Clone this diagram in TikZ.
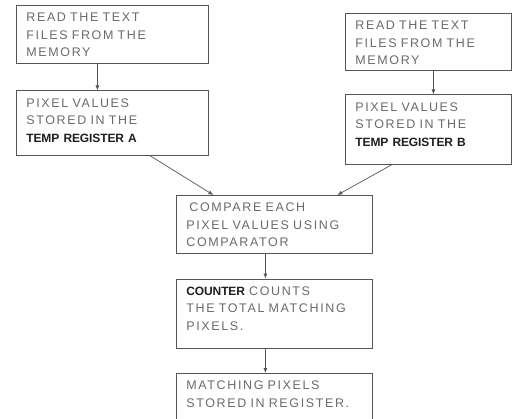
\documentclass[tikz,border=0pt]{standalone}
\usepackage{fontspec}
\setmainfont{Liberation Sans}[LetterSpace=13,WordSpace=1.4,BoldFeatures={LetterSpace=-1,WordSpace=1}]
\usetikzlibrary{arrows.meta,positioning}

\definecolor{boxline}{HTML}{555555}
\definecolor{boxtext}{HTML}{6A6A6A}
\definecolor{boldtext}{HTML}{1E1E1E}
\newcommand{\boldpart}[1]{{\fontsize{12}{17.6}\selectfont\textbf{\color{boldtext}#1}}}

\begin{document}
\begin{tikzpicture}[
    x=1pt, y=-1pt,
    stepbox/.style={draw=boxline, line width=0.8pt, anchor=north west, align=left,
      inner xsep=10pt, inner ysep=7.5pt, text=boxtext,
      font=\fontsize{12.5}{17.6}\selectfont},
    link/.style={->, draw=boxline, line width=0.7pt},
    >={Latex[length=5pt,width=4pt]},
]
\useasboundingbox (0,0) rectangle (513,419);

% Left branch: register A
\node[stepbox, text width=172pt, text depth=34pt] (readA) at (16,5)
  {READ THE TEXT\\FILES FROM THE\\MEMORY};
\node[stepbox, text width=172pt, text depth=41pt, below=27pt of readA] (regA)
  {PIXEL VALUES\\STORED IN THE\\\boldpart{TEMP REGISTER A}};

% Right branch: register B
\node[stepbox, text width=146pt, text depth=33pt] (readB) at (345,13)
  {READ THE TEXT\\FILES FROM THE\\MEMORY};
\node[stepbox, text width=146pt, text depth=46pt, below=24pt of readB] (regB)
  {PIXEL VALUES\\STORED IN THE\\\boldpart{TEMP REGISTER B}};

% Common chain
\node[stepbox, text width=176pt, text depth=34pt] (compare) at (176,195)
  {\hspace{3pt}COMPARE EACH\\PIXEL VALUES USING\\COMPARATOR};
\node[stepbox, text width=176pt, text depth=46pt, below=25pt of compare] (counter)
  {\boldpart{COUNTER} COUNTS\\THE TOTAL MATCHING\\PIXELS.};
\node[stepbox, text width=176pt, text depth=22pt, below=24pt of counter] (result)
  {MATCHING PIXELS\\STORED IN REGISTER.};

% Connectors
\draw[link] ([xshift=-15pt]readA.south) -- ([xshift=-15pt]regA.north);
\draw[link] ([xshift=5pt]readB.south) -- ([xshift=5pt]regB.north);
\draw[link] ([xshift=38pt]regA.south) -- ([xshift=-61pt]compare.north);
\draw[link] ([xshift=-37pt]regB.south) -- ([xshift=63pt]compare.north);
\draw[link] ([xshift=-9pt]compare.south) -- ([xshift=-9pt]counter.north);
\draw[link] ([xshift=-9pt]counter.south) -- ([xshift=-9pt]result.north);

\end{tikzpicture}
\end{document}
